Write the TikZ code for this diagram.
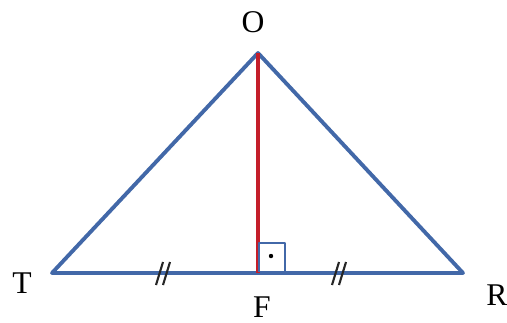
\documentclass[tikz,border=0pt]{standalone}
\usepackage{fontspec}
\setmainfont{Liberation Serif}
\usepackage{tikz}
\definecolor{sideblue}{RGB}{66,104,168}
\definecolor{altred}{RGB}{196,30,42}
\begin{document}
\begin{tikzpicture}[x=0.02cm, y=-0.02cm, line join=round,
  side/.style={sideblue, line width=2.2pt},
  lbl/.style={font=\fontsize{18}{21}\selectfont, inner sep=0pt},
  tickline/.style={black!85, line width=1.2pt},
  dbltick/.pic={
    \draw[tickline] (-6,12) -- (1,-11);
    \draw[tickline] (1,12) -- (8,-11);
  }]
  \useasboundingbox (0,0) rectangle (507,322);
  % corners of the triangle
  \coordinate (T) at (52,273);
  \coordinate (R) at (463,273);
  \coordinate (O) at (258,53);
  \coordinate (F) at (258,273);
  \draw[side] (T) -- (O) -- (R) -- cycle;
  \draw[altred, line width=1.8pt] (O) -- (F);
  % right angle mark
  \draw[sideblue, line width=1.1pt] (259,272) |- (285,243) -- (285,272);
  \fill (271,256) circle (2.2);
  % equal segments
  \pic at (162,273) {dbltick};
  \pic at (338,273) {dbltick};
  % labels
  \node[lbl] (lO) at (253,22) {O};
  \node[lbl] (lT) at (22,283) {T};
  \node[lbl] (lF) at (262,307) {F};
  \node[lbl] (lR) at (497,295) {R};
\end{tikzpicture}
\end{document}
